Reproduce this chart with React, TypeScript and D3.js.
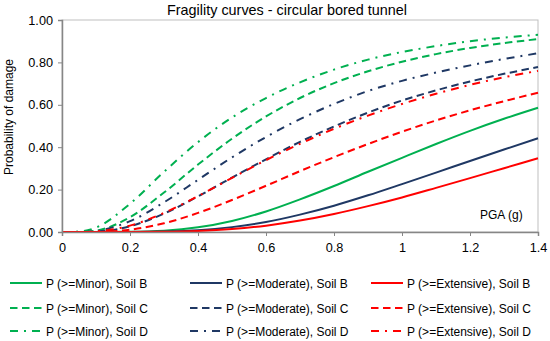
import React, { useEffect, useRef } from 'react';
import * as d3 from 'd3';

// PGA (g) sample points
const pga = [0, 0.05, 0.1, 0.2, 0.3, 0.4, 0.5, 0.6, 0.7, 0.8, 0.9, 1.0, 1.1, 1.2, 1.3, 1.4];

// Probability of damage per curve
const minorB = [0, 0, 0, 0.001, 0.006, 0.022, 0.052, 0.097, 0.154, 0.217, 0.284, 0.35, 0.415, 0.477, 0.534, 0.586];
const minorC = [0, 0, 0.006, 0.07, 0.186, 0.318, 0.44, 0.545, 0.632, 0.702, 0.758, 0.803, 0.839, 0.868, 0.891, 0.91];
const minorD = [0, 0.002, 0.021, 0.133, 0.284, 0.424, 0.54, 0.632, 0.706, 0.766, 0.813, 0.849, 0.877, 0.9, 0.917, 0.93];
const moderateB = [0, 0, 0, 0, 0.002, 0.008, 0.023, 0.047, 0.082, 0.124, 0.173, 0.226, 0.28, 0.335, 0.389, 0.442];
const moderateC = [0, 0, 0.002, 0.027, 0.087, 0.168, 0.257, 0.343, 0.425, 0.498, 0.563, 0.62, 0.668, 0.71, 0.746, 0.778];
const moderateD = [0, 0, 0.005, 0.051, 0.14, 0.246, 0.352, 0.448, 0.532, 0.604, 0.665, 0.713, 0.752, 0.786, 0.816, 0.843];
const extensiveB = [0, 0, 0, 0, 0.001, 0.005, 0.014, 0.03, 0.054, 0.085, 0.122, 0.163, 0.208, 0.254, 0.301, 0.348];
const extensiveC = [0, 0, 0, 0.011, 0.041, 0.09, 0.151, 0.218, 0.287, 0.353, 0.415, 0.473, 0.526, 0.574, 0.617, 0.657];
const extensiveD = [0, 0, 0.003, 0.03, 0.09, 0.169, 0.255, 0.339, 0.416, 0.487, 0.549, 0.604, 0.652, 0.694, 0.73, 0.76];

const xTicks = [0, 0.2, 0.4, 0.6, 0.8, 1, 1.2, 1.4];
const yTicks = [0, 0.2, 0.4, 0.6, 0.8, 1];

const damageStates = ['Minor', 'Moderate', 'Extensive'];
const soils = ['B', 'C', 'D'];
const stateColors = ['#00b050', '#1f3864', '#ff0000'];
const soilDashes = [null, '7.5,4.5', '8,6,2,6'];

const seriesValues = [
  [minorB, minorC, minorD],
  [moderateB, moderateC, moderateD],
  [extensiveB, extensiveC, extensiveD],
];

const FONT = '"Liberation Sans", Arial, sans-serif';

const App: React.FC = () => {
  const chartRef = useRef<SVGSVGElement | null>(null);

  useEffect(() => {
    const svg = d3.select(chartRef.current);
    svg.selectAll('*').remove();

    const W = 550;
    const H = 341;
    const margin = { top: 20, right: 12, bottom: 109, left: 62 };
    const width = W - margin.left - margin.right;
    const height = H - margin.top - margin.bottom;

    svg.attr('width', W).attr('height', H).style('font-family', FONT);

    const g = svg.append('g').attr('transform', `translate(${margin.left},${margin.top})`);

    const x = d3.scaleLinear().domain([0, 1.4]).range([0, width]);
    const y = d3.scaleLinear().domain([0, 1]).range([height, 0]);

    // plot frame (top/right)
    g.append('rect')
      .attr('x', 0)
      .attr('y', 0)
      .attr('width', width)
      .attr('height', height)
      .attr('fill', 'none')
      .attr('stroke', '#bfbfbf')
      .attr('stroke-width', 1);

    // curves
    const line = d3
      .line<number>()
      .x((_, i) => x(pga[i]))
      .y((d) => y(d))
      .curve(d3.curveMonotoneX);

    seriesValues.forEach((bySoil, s) => {
      bySoil.forEach((vals, k) => {
        const path = g
          .append('path')
          .attr('d', line(vals))
          .attr('fill', 'none')
          .attr('stroke', stateColors[s])
          .attr('stroke-width', 2);
        if (soilDashes[k]) path.attr('stroke-dasharray', soilDashes[k]!);
      });
    });

    // axes
    const xAxis = d3
      .axisBottom(x)
      .tickValues(xTicks)
      .tickFormat((d) => `${+(+d).toFixed(1)}`)
      .tickSizeOuter(0)
      .tickSize(4)
      .tickPadding(7);
    const yAxis = d3
      .axisLeft(y)
      .tickValues(yTicks)
      .tickFormat(d3.format('.2f'))
      .tickSizeOuter(0)
      .tickSize(4)
      .tickPadding(5);

    const gx = g.append('g').attr('transform', `translate(0,${height})`).call(xAxis);
    const gy = g.append('g').call(yAxis);
    [gx, gy].forEach((ax) => {
      ax.select('.domain').attr('stroke', '#868686').attr('stroke-width', 1.5);
      ax.selectAll('.tick line').attr('stroke', '#868686');
      ax.selectAll('.tick text')
        .attr('fill', '#000')
        .style('font-size', '12.7px')
        .style('font-family', FONT);
    });

    // title
    svg.append('text')
      .attr('x', 287)
      .attr('y', 15)
      .attr('text-anchor', 'middle')
      .style('font-size', '14.4px')
      .text('Fragility curves - circular bored tunnel');

    // y label
    svg.append('text')
      .attr('transform', `translate(13,117) rotate(-90)`)
      .attr('text-anchor', 'middle')
      .style('font-size', '12px')
      .text('Probability of damage');

    // x label inside plot
    g.append('text')
      .attr('x', x(1.4) - 58)
      .attr('y', height - 13)
      .style('font-size', '12px')
      .text('PGA (g)');

    // legend
    const colX = [10, 190, 371];
    const rowY = [283, 308, 331];
    damageStates.forEach((st, s) => {
      soils.forEach((soil, k) => {
        const lg = svg.append('g').attr('transform', `translate(${colX[s]},${rowY[k]})`);
        const l = lg
          .append('line')
          .attr('x1', 0)
          .attr('x2', 32)
          .attr('stroke', stateColors[s])
          .attr('stroke-width', 2);
        if (soilDashes[k]) l.attr('stroke-dasharray', soilDashes[k]!);
        lg.append('text')
          .attr('x', 36)
          .attr('y', 4.5)
          .style('font-size', '12px')
          .text(`P (>=${st}), Soil ${soil}`);
      });
    });
  }, []);

  return <svg ref={chartRef} style={{ position: 'absolute', left: 0, top: 0 }}></svg>;
};

export default App;
